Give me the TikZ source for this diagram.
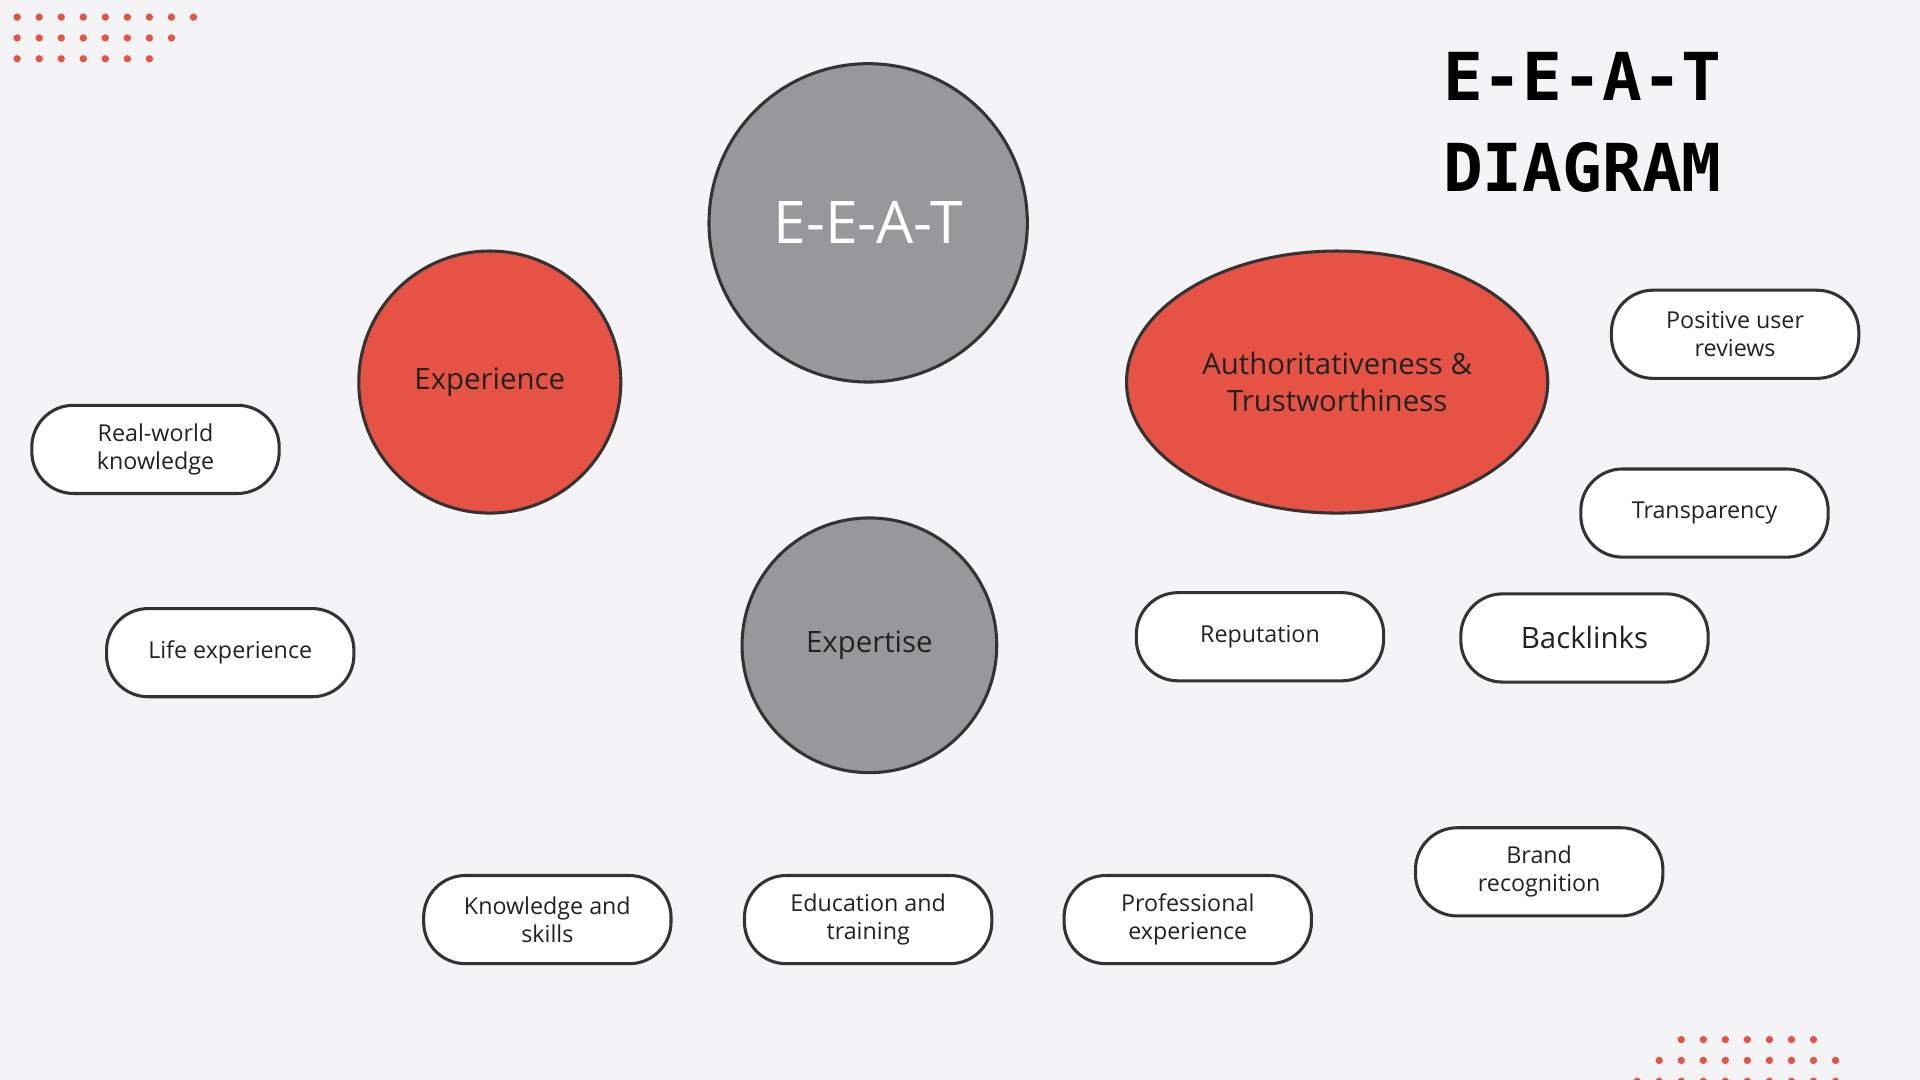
\documentclass[tikz,border=0pt]{standalone}
\usepackage{fontspec}
\setmainfont{Open Sans}
\newfontfamily\titlefont{DejaVu Sans Mono}
\usetikzlibrary{shapes.geometric,backgrounds}
\definecolor{bg}{HTML}{F4F4F6}
\definecolor{redc}{HTML}{E65244}
\definecolor{grayc}{HTML}{98989A}
\definecolor{edgec}{HTML}{333333}
\definecolor{txt}{HTML}{222222}
\begin{document}
\begin{tikzpicture}[x=1pt,y=-1pt,
  bubble/.style={circle,draw=edgec,line width=2.5pt,inner sep=0pt},
  pill/.style={rounded corners=34pt,draw=edgec,line width=2.5pt,fill=white,minimum width=202pt,minimum height=72pt,align=center,font=\fontsize{19}{23}\selectfont,text=txt},
  link/.style={draw=edgec,line width=2.5pt},
  dot/.style={circle,fill=redc,inner sep=0pt,minimum size=6pt}]
\fill[bg] (0,0) rectangle (1568,882);
\useasboundingbox (0,0) rectangle (1568,882);
% dots
\foreach \x in {0,...,8} \node[dot] at (14+18*\x,14) {};
\foreach \x in {0,...,7} \node[dot] at (14+18*\x,31) {};
\foreach \x in {0,...,6} \node[dot] at (14+18*\x,48) {};
\foreach \x in {0,...,6} \node[dot] at (1373+18*\x,849) {};
\foreach \x in {0,...,8} \node[dot] at (1355+18*\x,866) {};
\foreach \x in {0,...,9} \node[dot] at (1337+18*\x,883) {};
% title
\node[anchor=west,font=\titlefont\bfseries\fontsize{54}{74}\selectfont,align=left,text=black] (title) at (1175,100) {E-E-A-T\\DIAGRAM};
% main nodes
\node[bubble,fill=grayc,minimum size=260pt,text=white,font=\fontsize{48}{56}\selectfont] (eeat) at (709,182) {E-E-A-T};
\node[bubble,fill=redc,minimum size=214pt,text=txt,font=\fontsize{24}{28}\selectfont] (exp) at (400,312) {Experience};
\node[bubble,fill=grayc,minimum size=208pt,text=txt,font=\fontsize{24}{28}\selectfont] (expt) at (710,527) {Expertise};
\node[ellipse,draw=edgec,line width=2.5pt,fill=redc,minimum width=344pt,minimum height=214pt,inner sep=0pt,align=center,text=txt,font=\fontsize{24}{30}\selectfont] (auth) at (1092,312) {Authoritativeness \&\\Trustworthiness};
% pills
\node[pill] (rw) at (127,367) {Real-world\\knowledge};
\node[pill] (life) at (188,533) {Life experience};
\node[pill] (ks) at (447,751) {Knowledge and\\skills};
\node[pill] (edu) at (709,751) {Education and\\training};
\node[pill] (prof) at (970,751) {Professional\\experience};
\node[pill] (rep) at (1029,520) {Reputation};
\node[pill,font=\fontsize{24}{28}\selectfont] (back) at (1294,521) {Backlinks};
\node[pill] (brand) at (1257,712) {Brand\\recognition};
\node[pill] (trans) at (1392,419) {Transparency};
\node[pill] (pos) at (1417,273) {Positive user\\reviews};
\begin{scope}[on background layer]
\draw[link] (eeat) -- (exp);
\draw[link] (eeat) -- (expt);
\draw[link] (eeat) -- (auth);
\draw[link] (exp) -- (rw);
\draw[link] (exp) -- (life);
\draw[link] (expt) -- (ks.north);
\draw[link] (expt) -- (edu);
\draw[link] (expt) -- (prof.north);
\draw[link] (auth) -- (rep.north);
\draw[link] (auth.-82) -- (brand.110);
\draw[link] (auth.-60) -- (back.150);
\draw[link] (auth) -- (trans);
\draw[link] (auth) -- (pos);
\end{scope}
\end{tikzpicture}
\end{document}
